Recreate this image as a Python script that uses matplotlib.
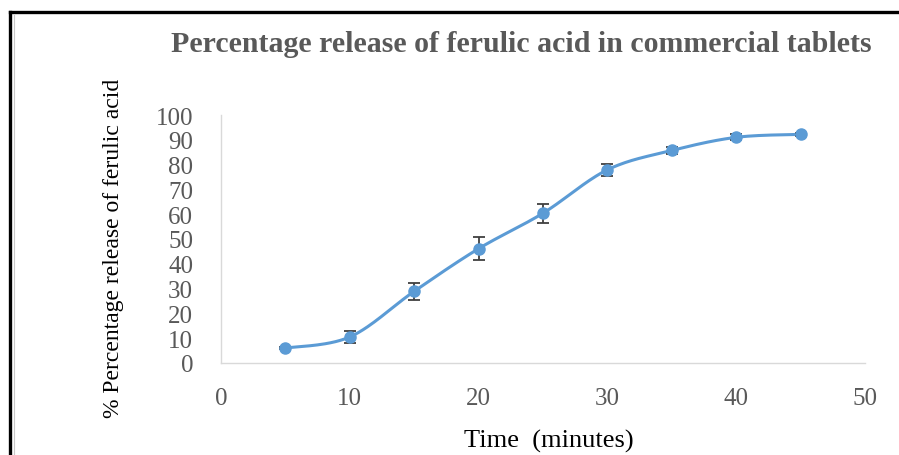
import matplotlib.pyplot as plt
import numpy as np
from matplotlib.lines import Line2D

# --- Data ---
time_min = [5, 10, 15, 20, 25, 30, 35, 40, 45]
release_pct = [6.0, 10.5, 28.9, 46.1, 60.4, 77.9, 85.7, 91.0, 92.2]
release_err = [0.5, 2.4, 3.4, 4.7, 3.9, 2.4, 1.5, 1.2, 0.6]
x_ticks = [0, 10, 20, 30, 40, 50]
y_ticks = [0, 10, 20, 30, 40, 50, 60, 70, 80, 90, 100]

title = "Percentage release of ferulic acid in commercial tablets"
x_label = "Time  (minutes)"
y_label = "% Percentage release of ferulic acid"


def smooth_curve(x, y, n=30, tension=1/6):
    # Excel-like smoothed line: cubic Bezier segments (Catmull-Rom style)
    x = np.asarray(x, float)
    y = np.asarray(y, float)
    px, py = [], []
    for i in range(len(x) - 1):
        x0, y0 = (x[i - 1], y[i - 1]) if i > 0 else (x[i], y[i])
        x3, y3 = (x[i + 2], y[i + 2]) if i + 2 < len(x) else (x[i + 1], y[i + 1])
        c1x = x[i] + (x[i + 1] - x0) * tension
        c1y = y[i] + (y[i + 1] - y0) * tension
        c2x = x[i + 1] - (x3 - x[i]) * tension
        c2y = y[i + 1] - (y3 - y[i]) * tension
        t = np.linspace(0, 1, n)
        bx = (1-t)**3*x[i] + 3*(1-t)**2*t*c1x + 3*(1-t)*t**2*c2x + t**3*x[i+1]
        by = (1-t)**3*y[i] + 3*(1-t)**2*t*c1y + 3*(1-t)*t**2*c2y + t**3*y[i+1]
        px.extend(bx)
        py.extend(by)
    return np.array(px), np.array(py)


plt.rcParams.update({
    "font.family": ["Liberation Serif", "DejaVu Serif"],
})

text_grey = "#595959"
line_blue = "#5b9bd5"

fig = plt.figure(figsize=(8.99, 4.56), dpi=100)
ax = fig.add_axes([0.2458, 0.2018, 0.7164, 0.5438])

sx, sy = smooth_curve(time_min, release_pct)
ax.plot(sx, sy, color=line_blue, linewidth=2.2, zorder=2)
ax.errorbar(time_min, release_pct, yerr=release_err, fmt="none",
            ecolor="#404040", elinewidth=1.3, capsize=4.5, capthick=1.3, zorder=3)
ax.plot(time_min, release_pct, "o", color=line_blue, markersize=8, zorder=4)

ax.set_xlim(0, 50)
ax.set_ylim(0, 100)
ax.set_xticks(x_ticks)
ax.set_yticks(y_ticks)
ax.tick_params(length=0, labelsize=18, labelcolor=text_grey)
ax.tick_params(axis="x", pad=17)
ax.tick_params(axis="y", pad=20)

for s in ["top", "right"]:
    ax.spines[s].set_visible(False)
for s in ["left", "bottom"]:
    ax.spines[s].set_color("#d9d9d9")
    ax.spines[s].set_linewidth(1.0)

fig.text(0.580, 0.902, title, ha="center", va="center", fontsize=21.5,
         fontweight="bold", color=text_grey)
fig.text(0.610, 0.032, x_label, ha="center", va="center", fontsize=19, color="black")
fig.text(0.126, 0.455, y_label, ha="center", va="center", rotation=90,
         fontsize=17, color="black")

# outer frame (left and top edges visible)
fig.add_artist(Line2D([0.0111, 0.0111], [0.0, 0.9715], transform=fig.transFigure,
                      color="black", linewidth=2.4))
fig.add_artist(Line2D([0.0111, 1.0], [0.9715, 0.9715], transform=fig.transFigure,
                      color="black", linewidth=2.4))
fig.add_artist(Line2D([0.0155, 0.0155], [0.0, 0.964], transform=fig.transFigure,
                      color="#c8c8c8", linewidth=0.8))

fig.savefig("out.png", dpi=100)
